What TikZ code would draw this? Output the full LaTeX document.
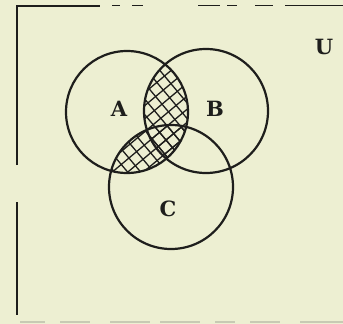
\documentclass[tikz,border=0pt]{standalone}
\usepackage{fontspec}
\setmainfont{DejaVu Serif}
\definecolor{paper}{RGB}{237,239,210}
\definecolor{ink}{RGB}{30,30,28}
\definecolor{faint}{RGB}{200,202,180}
\tikzset{
  setcircle/.style={draw=ink, line width=2.2pt},
  frameline/.style={draw=ink, line width=2pt},
  hatchline/.style={draw=ink, line width=1.3pt},
  setlabel/.style={text=ink, font=\fontsize{21}{21}\selectfont\bfseries, inner sep=0pt}
}
\begin{document}
\begin{tikzpicture}[x=1pt,y=-1pt]
\fill[paper] (0,0) rectangle (343,324);
\useasboundingbox (0,0) rectangle (343,324);
% frame
\draw[frameline] (17,165) -- (17,6) -- (60,6);
\draw[frameline] (17,202) -- (17,315);
\draw[frameline, line width=1.2pt] (60,6) -- (100,6);
\foreach \a/\b in {112/120,132/143,198/220,227/237,255/273,285/343}
  \draw[frameline, line width=1.3pt] (\a,5.5) -- (\b,5.5);
\foreach \a/\b in {20/45,60/90,110/150,160/200,215/235,250/280,300/343}
  \draw[faint, line width=1.2pt] (\a,322) -- (\b,322);
% named circle centres
\coordinate (ca) at (127,112);
\coordinate (cb) at (206,111);
\coordinate (cc) at (171,187);
% hatching of A and B
\begin{scope}
  \clip (ca) circle[radius=61pt];
  \clip (cb) circle[radius=62pt];
  \begin{scope}[shift={(166,140)}, rotate=40]
    \foreach \k in {-130,-120,...,130} {
      \draw[hatchline] (\k,-135) -- (\k,135);
      \draw[hatchline] (-135,\k) -- (135,\k);
    }
  \end{scope}
\end{scope}
% hatching of A and C
\begin{scope}
  \clip (ca) circle[radius=61pt];
  \clip (cc) circle[radius=62pt];
  \begin{scope}[shift={(166,140)}, rotate=40]
    \foreach \k in {-130,-120,...,130} {
      \draw[hatchline] (\k,-135) -- (\k,135);
      \draw[hatchline] (-135,\k) -- (135,\k);
    }
  \end{scope}
\end{scope}
% circles
\draw[setcircle] (ca) circle[radius=61pt];
\draw[setcircle] (cb) circle[radius=62pt];
\draw[setcircle] (cc) circle[radius=62pt];
% labels
\node[setlabel] (la) at (119,109) {A};
\node[setlabel] (lb) at (215,109) {B};
\node[setlabel] (lc) at (168,209) {C};
\node[setlabel] (lu) at (324,47) {U};
\end{tikzpicture}
\end{document}
